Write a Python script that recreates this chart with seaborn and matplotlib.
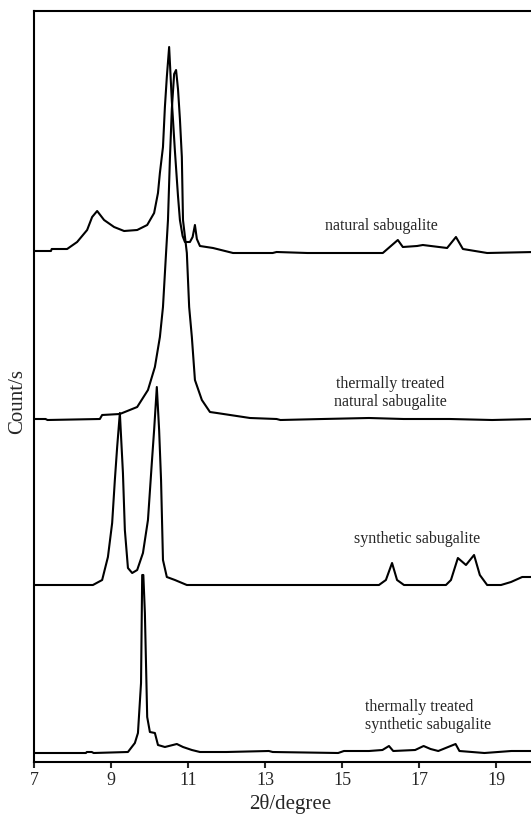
import pandas as pd
import matplotlib
matplotlib.use("Agg")
import matplotlib.pyplot as plt
import seaborn as sns

# ---------- XRD patterns (2theta in degrees, intensity above own baseline) ----------
nat_x = [7.00, 7.44, 7.46, 7.86, 8.12, 8.38, 8.51, 8.64, 8.82, 9.08, 9.34, 9.68, 9.94,
         10.12, 10.22, 10.27, 10.35, 10.40, 10.45, 10.51, 10.58, 10.66, 10.74, 10.79,
         10.86, 10.92, 11.05, 11.12, 11.18, 11.23, 11.31, 11.65, 12.17, 13.20, 13.30,
         14.10, 16.06, 16.30, 16.45, 16.58, 16.95, 17.10, 17.73, 17.96, 18.14, 18.77, 20.00]
nat_y = [0, 0, 2, 2, 9, 21, 34, 40, 31, 24, 20, 21, 26,
         38, 58, 78, 104, 144, 174, 204, 150, 100, 55, 31,
         15, 9, 9, 14, 26, 12, 5, 3, -2, -2, -1,
         -2, -2, 6, 11, 4, 5, 6, 3, 14, 2, -2, -1]

ttnat_x = [7.00, 7.30, 7.35, 8.71, 8.77, 9.23, 9.68, 9.96, 10.14, 10.27, 10.35, 10.43,
           10.48, 10.53, 10.58, 10.64, 10.69, 10.74, 10.79, 10.84, 10.87, 10.97, 11.03,
           11.10, 11.18, 11.36, 11.57, 11.75, 12.61, 13.30, 13.40, 14.50, 15.70, 16.60,
           17.80, 18.90, 20.00]
ttnat_y = [0, 0, -1, 0, 4, 5, 12, 29, 52, 82, 112, 166,
           199, 260, 310, 345, 349, 330, 300, 262, 199, 166, 112,
           82, 39, 19, 7, 6, 1, 0, -1, 0, 1, 0,
           0, -1, 0]

syn_x = [7.00, 8.53, 8.77, 8.92, 9.03, 9.10, 9.16, 9.23, 9.31, 9.36, 9.44, 9.55, 9.68,
         9.83, 9.96, 10.06, 10.12, 10.19, 10.25, 10.30, 10.35, 10.45, 10.66, 10.97,
         15.96, 16.14, 16.30, 16.43, 16.61, 17.70, 17.83, 18.01, 18.22, 18.43, 18.58,
         18.77, 19.13, 19.39, 19.68, 20.00]
syn_y = [0, 0, 5, 28, 62, 105, 138, 172, 112, 55, 17, 12, 15,
         32, 65, 122, 155, 198, 155, 105, 25, 8, 5, 0,
         0, 5, 22, 5, 0, 0, 5, 27, 20, 30, 10,
         0, 0, 3, 8, 8]

ttsyn_x = [7.00, 8.35, 8.37, 8.50, 8.55, 9.44, 9.62, 9.70, 9.78, 9.81, 9.84, 9.88, 9.94,
           10.01, 10.14, 10.22, 10.40, 10.71, 10.87, 11.10, 11.31, 12.00, 13.10, 13.20,
           14.90, 15.05, 15.70, 16.05, 16.22, 16.33, 16.90, 17.12, 17.30, 17.50, 17.95,
           18.05, 18.70, 19.40, 20.00]
ttsyn_y = [0, 0, 1, 1, 0, 1, 10, 20, 70, 178, 178, 140, 36,
           21, 20, 8, 6, 9, 6, 3, 1, 1, 2, 1,
           0, 2, 2, 3, 7, 2, 3, 7, 4, 2, 9,
           2, 0, 2, 2]

patterns = [
    ("natural sabugalite", nat_x, nat_y),
    ("thermally treated natural sabugalite", ttnat_x, ttnat_y),
    ("synthetic sabugalite", syn_x, syn_y),
    ("thermally treated synthetic sabugalite", ttsyn_x, ttsyn_y),
]
offsets = [511, 343, 177, 9]

labels = ["natural sabugalite", "thermally treated\nnatural sabugalite",
          "synthetic sabugalite", "thermally treated\nsynthetic sabugalite"]
label_x = [16.01, 16.25, 16.95, 15.60]
label_y = [536, 369, 223, 46]
label_ha = ["center", "center", "center", "left"]

xticks = [7, 9, 11, 13, 15, 17, 19]

# ---------- Plot ----------
sns.set_style("ticks")
plt.rcParams["font.family"] = ["Liberation Serif", "DejaVu Serif"]

fig = plt.figure(figsize=(5.31, 8.14), dpi=100)
ax = fig.add_axes([34 / 531, 52 / 814, 500.5 / 531, 751 / 814])

for (name, xs, ys), off in zip(patterns, offsets):
    df = pd.DataFrame({"two_theta": xs, "counts": [v + off for v in ys]})
    sns.lineplot(data=df, x="two_theta", y="counts", color="black", linewidth=1.5,
                 estimator=None, sort=False, ax=ax)

for txt, tx, ty, ha in zip(labels, label_x, label_y, label_ha):
    ax.text(tx, ty, txt, ha=ha, va="center", fontsize=11.5, linespacing=1.1)

ax.set_xlim(7, 20)
ax.set_ylim(0, 751)
ax.set_xticks(xticks)
ax.set_yticks([])
ax.tick_params(axis="x", direction="out", length=4, width=1.5, labelsize=13, pad=3)
for s in ax.spines.values():
    s.set_linewidth(1.5)
    s.set_color("black")
ax.set_xlabel("2θ/degree", fontsize=15)
ax.set_ylabel("Count/s", fontsize=15)
ax.xaxis.set_label_coords(0.511, -0.043)
ax.yaxis.set_label_coords(-0.013, 0.48)

fig.savefig("out.png", dpi=100)
